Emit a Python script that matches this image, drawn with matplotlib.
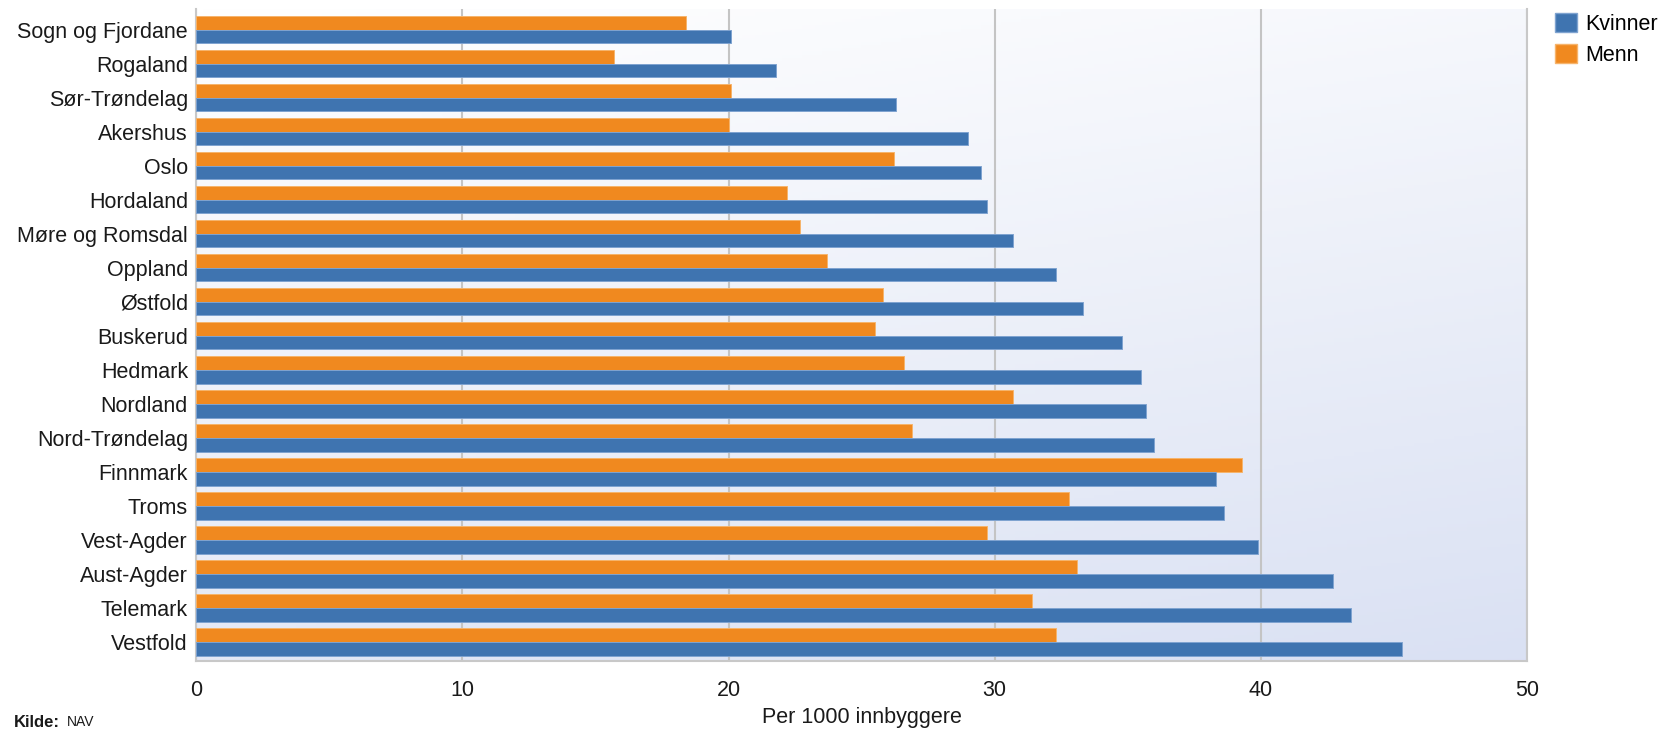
import numpy as np
import matplotlib
matplotlib.use('Agg')
import matplotlib.pyplot as plt
from matplotlib.patches import Patch

plt.rcParams['font.family'] = ['Liberation Sans', 'DejaVu Sans']

fylker = ['Sogn og Fjordane', 'Rogaland', 'Sør-Trøndelag', 'Akershus', 'Oslo',
          'Hordaland', 'Møre og Romsdal', 'Oppland', 'Østfold', 'Buskerud',
          'Hedmark', 'Nordland', 'Nord-Trøndelag', 'Finnmark', 'Troms',
          'Vest-Agder', 'Aust-Agder', 'Telemark', 'Vestfold']
kvinner = [20.1, 21.8, 26.3, 29.0, 29.5, 29.7, 30.7, 32.3, 33.3, 34.8,
           35.5, 35.7, 36.0, 38.3, 38.6, 39.9, 42.7, 43.4, 45.3]
menn = [18.4, 15.7, 20.1, 20.0, 26.2, 22.2, 22.7, 23.7, 25.8, 25.5,
        26.6, 30.7, 26.9, 39.3, 32.8, 29.7, 33.1, 31.4, 32.3]
xticks = [0, 10, 20, 30, 40, 50]

blaa = '#3f74b0'
oransje = '#f0891f'

fig = plt.figure(figsize=(16.78, 7.30), dpi=100)
ax = fig.add_axes([0.117, 0.095, 0.793, 0.893])

# bakgrunn: hvit oppe, lys lilla-blaa nede til hoyre
ny, nx = 200, 200
v = np.linspace(0, 1, ny)[:, None]
h = np.linspace(0, 1, nx)[None, :]
t = 0.75 * v + 0.25 * h
c0 = np.array([1.0, 1.0, 1.0])
c1 = np.array([0.855, 0.882, 0.953])
img = c0 + (c1 - c0) * t[..., None]
ax.imshow(img, extent=[0, 1, 0, 1], transform=ax.transAxes, aspect='auto',
          origin='upper', zorder=0)

y = np.arange(len(fylker))
ax.barh(y - 0.2, menn, height=0.4, color=oransje, edgecolor='#f6b46c', linewidth=0.7, zorder=3, label='Menn')
ax.barh(y + 0.2, kvinner, height=0.4, color=blaa, edgecolor='#7fa3d0', linewidth=0.7, zorder=3, label='Kvinner')

ax.set_xlim(0, 50)
ax.set_ylim(len(fylker) - 0.45, -0.62)
ax.set_xticks(xticks)
ax.set_yticks(y)
ax.set_yticklabels(fylker)
ax.tick_params(axis='both', length=0, labelsize=15.5, colors='#1a1a1a')
ax.tick_params(axis='x', pad=14)
ax.tick_params(axis='y', pad=6)
ax.grid(axis='x', color='#c4c4c4', linewidth=1.5, zorder=1)
ax.set_axisbelow(True)

for s in ['left', 'bottom', 'right']:
    ax.spines[s].set_color('#c8c8c8')
    ax.spines[s].set_linewidth(1.5)
ax.spines['top'].set_visible(False)

ax.set_xlabel('Per 1000 innbyggere', fontsize=15.5, color='#1a1a1a', labelpad=4)

handles = [Patch(facecolor=blaa, edgecolor='#7fa3d0', label='Kvinner'),
           Patch(facecolor=oransje, edgecolor='#f6b46c', label='Menn')]
fig.legend(handles=handles, loc='upper left', bbox_to_anchor=(0.919, 1.0),
           frameon=False, fontsize=15.5, handlelength=1.0, handleheight=1.0,
           handletextpad=0.4, labelspacing=0.4, borderaxespad=0.2)

fig.text(0.008, 0.02, 'Kilde:', fontsize=12, fontweight='bold', va='top', color='#1a1a1a')
fig.text(0.040, 0.02, 'NAV', fontsize=10, va='top', color='#1a1a1a')

fig.savefig('out.png', dpi=100)
